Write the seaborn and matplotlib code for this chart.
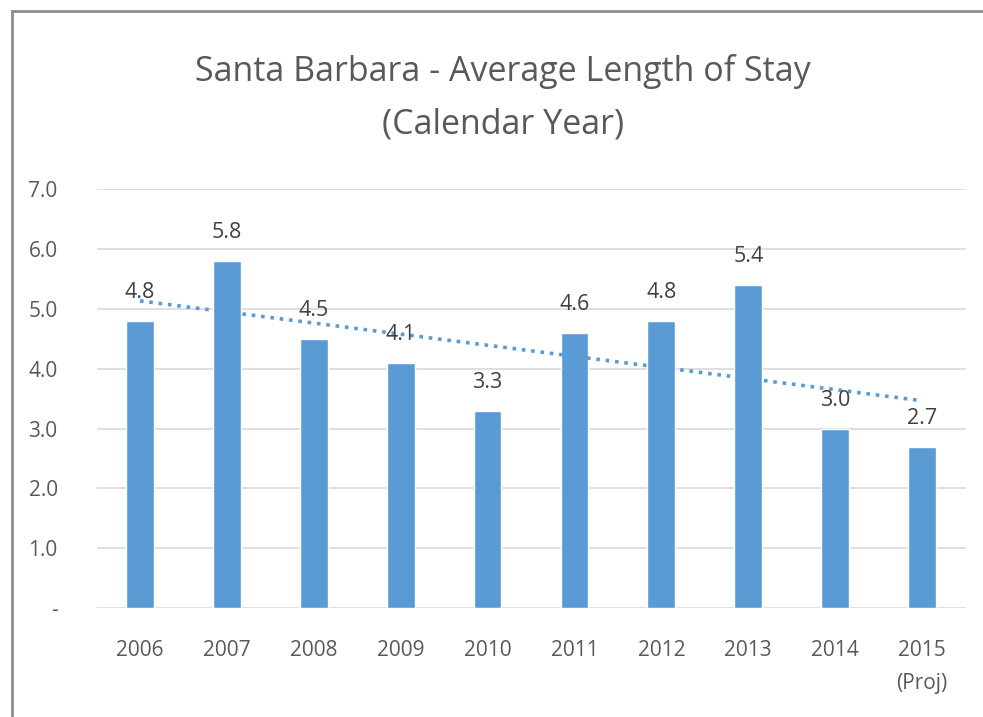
import numpy as np
import pandas as pd
import seaborn as sns
import matplotlib.pyplot as plt
from matplotlib.patches import Rectangle

# Data ---------------
years = ["2006", "2007", "2008", "2009", "2010", "2011", "2012", "2013", "2014", "2015\n(Proj)"]
avg_los = [4.8, 5.8, 4.5, 4.1, 3.3, 4.6, 4.8, 5.4, 3.0, 2.7]
y_ticks = [0, 1, 2, 3, 4, 5, 6, 7]
y_tick_labels = ["-", "1.0", "2.0", "3.0", "4.0", "5.0", "6.0", "7.0"]

df = pd.DataFrame({"year": years, "los": avg_los})

bar_color = "#5b9bd5"
text_color = "#595959"

sns.set_style("white")
plt.rcParams["font.family"] = ["Open Sans", "DejaVu Sans"]

fig = plt.figure(figsize=(9.83, 7.17), dpi=100)
ax = fig.add_axes([0.0982, 0.152, 0.884, 0.584])

sns.barplot(data=df, x="year", y="los", color=bar_color, width=0.32,
            saturation=1, ax=ax, zorder=3)

# linear trendline (Excel style)
xs = np.arange(len(avg_los))
slope, icpt = np.polyfit(xs, avg_los, 1)
ax.plot(xs, slope * xs + icpt, linestyle=(0, (1, 1.6)), color=bar_color,
        linewidth=2.6, zorder=4)

# data labels
for i, v in enumerate(avg_los):
    ax.text(i, v + 0.3, f"{v:.1f}", ha="center", va="bottom",
            fontsize=15.5, color="#404040", clip_on=False, zorder=5)

ax.set_ylim(0, 7)
ax.set_xlim(-0.5, len(avg_los) - 0.5)
ax.set_yticks(y_ticks)
ax.set_yticklabels(y_tick_labels)
ax.yaxis.grid(True, color="#d9d9d9", linewidth=1.2, zorder=0)
ax.set_axisbelow(True)
for s in ax.spines.values():
    s.set_visible(False)
ax.tick_params(axis="both", length=0, labelsize=15, labelcolor=text_color)
ax.tick_params(axis="y", pad=28)
ax.tick_params(axis="x", pad=23)
for lab in ax.get_xticklabels():
    lab.set_verticalalignment("top")
    lab.set_linespacing(1.75)

ax.set_xlabel("")
ax.set_ylabel("")

fig.text(0.512, 0.864, "Santa Barbara - Average Length of Stay\n(Calendar Year)",
         ha="center", va="center", fontsize=24.5, color=text_color, linespacing=1.7)

# chart border
fig.patches.append(Rectangle((12 / 983, -0.1), 1.2, 1 - 11 / 717 + 0.1,
                             transform=fig.transFigure, fill=False,
                             edgecolor="#8c8c8c", linewidth=2))

fig.savefig("out.png", dpi=100, facecolor="white")
